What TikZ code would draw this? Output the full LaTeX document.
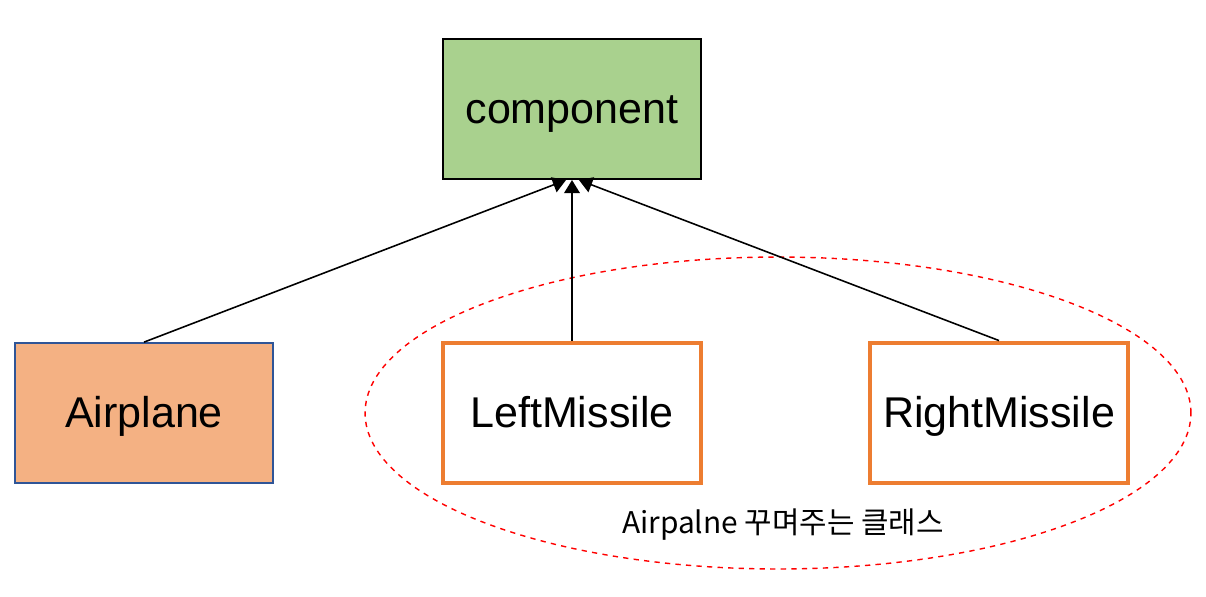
\documentclass[tikz,border=0pt]{standalone}
\usepackage{fontspec}
\setmainfont{Liberation Sans}
\newfontfamily\krfont{Noto Sans CJK KR}
\usetikzlibrary{arrows.meta}
\definecolor{compgreen}{HTML}{A9D18E}
\definecolor{planeorange}{HTML}{F4B183}
\definecolor{planeblue}{HTML}{2F5597}
\definecolor{missileorange}{HTML}{ED7D31}
\tikzset{
  classbox/.style={rectangle, minimum width=5.16cm, minimum height=2.8cm, inner sep=0pt,
    text height=22pt, text depth=5pt, font=\fontsize{24.5}{28}\selectfont},
  inherit/.style={line width=0.9pt, -{Triangle[width=9pt,length=7.5pt]}},
}

\begin{document}
\begin{tikzpicture}[x=0.02cm, y=-0.02cm]
\useasboundingbox (0,0) rectangle (1206,596);
\draw[red, dashed, line width=0.8pt] (778,413) ellipse [x radius=8.26cm, y radius=3.12cm];
\node (comp) [classbox, draw=black, line width=1.2pt, fill=compgreen] at (572,109) {component};
\node (plane) [classbox, draw=planeblue, line width=1pt, fill=planeorange] at (144,413) {Airplane};
\node (lmiss) [classbox, draw=missileorange, line width=2.8pt, fill=white] at (572,413) {LeftMissile};
\node (rmiss) [classbox, draw=missileorange, line width=2.8pt, fill=white] at (999,413) {RightMissile};
\node (deco) at (783,525) {\krfont\fontsize{17}{20}\selectfont Airpalne 꾸며주는 클래스};
\draw[inherit] (plane.north) -- ([xshift=-0.12cm]comp.south);
\draw[inherit] (lmiss.north) -- (comp.south);
\draw[inherit] (rmiss.north) -- ([xshift=0.14cm]comp.south);
\end{tikzpicture}
\end{document}
